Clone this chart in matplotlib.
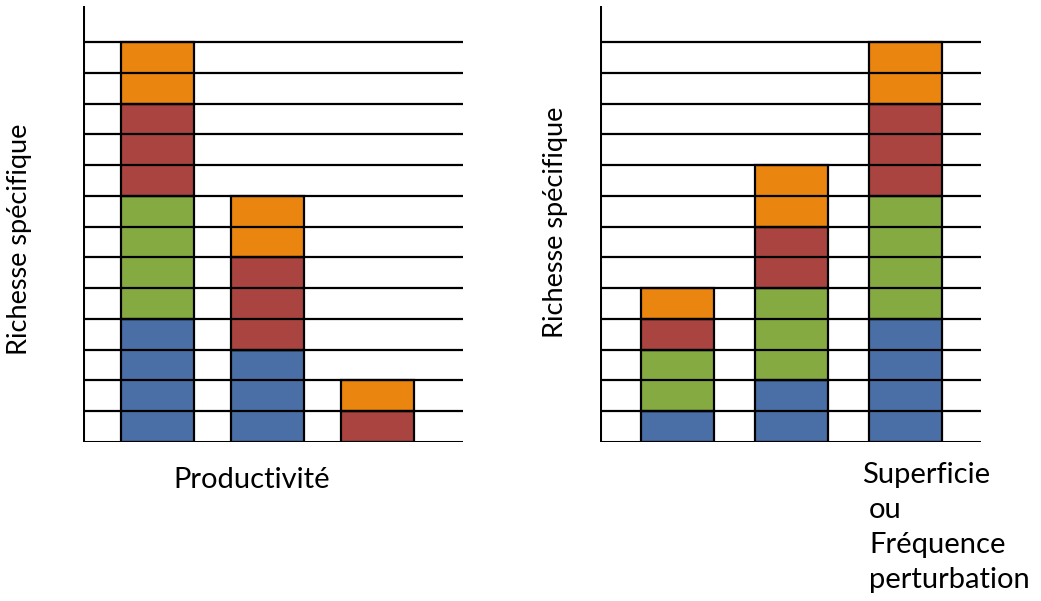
import numpy as np
import matplotlib.pyplot as plt

# stacked units per bar (blue, green, red, orange)
prod_blue = [4, 3, 0]
prod_green = [4, 0, 0]
prod_red = [3, 3, 1]
prod_orange = [2, 2, 1]

sup_blue = [1, 2, 4]
sup_green = [2, 3, 4]
sup_red = [1, 2, 3]
sup_orange = [1, 2, 2]

n_lines = 13
colors = ['#4A6FA6', '#86AA42', '#AA4441', '#EA850F']

W, H = 1041, 601
fig = plt.figure(figsize=(W / 100, H / 100), dpi=100)
plt.rcParams['font.family'] = ['Lato', 'DejaVu Sans']


def px_axes(x0, x1, y_top, y_bot):
    return fig.add_axes([x0 / W, 1 - y_bot / H, (x1 - x0) / W, (y_bot - y_top) / H])


def draw_panel(ax, series, first_center_px, spacing_px, left_px, right_px):
    unit = (442 - 42) / n_lines
    ax.set_ylim(0, (442 - 6) / unit)
    ax.set_xlim((left_px - first_center_px) / spacing_px,
                (right_px - first_center_px) / spacing_px)
    x = np.arange(3)
    width = 73 / spacing_px
    bottom = np.zeros(3)
    for vals, c in zip(series, colors):
        vals = np.array(vals)
        ax.bar(x, vals, width, bottom=bottom, color=c,
               edgecolor='black', linewidth=1.6, zorder=2)
        bottom += vals
    xl = ax.get_xlim()
    for k in range(1, n_lines + 1):
        ax.plot(xl, [k, k], color='black', lw=1.6, zorder=3)
    ax.plot(xl, [0, 0], color='black', lw=2.2, zorder=3)
    ax.plot([xl[0], xl[0]], [0, ax.get_ylim()[1]], color='black', lw=2.2, zorder=3)
    ax.axis('off')


ax1 = px_axes(83, 463, 6, 442)
draw_panel(ax1, [prod_blue, prod_green, prod_red, prod_orange], 157.5, 110, 83, 463)

ax2 = px_axes(600, 981, 6, 442)
draw_panel(ax2, [sup_blue, sup_green, sup_red, sup_orange], 677, 114, 600, 981)

fs_y = 19.5
fs = 21
fig.text(20 / W, 1 - 239 / H, 'Richesse spécifique', rotation=90,
         ha='center', va='center', fontsize=fs_y)
fig.text(556 / W, 1 - 222 / H, 'Richesse spécifique', rotation=90,
         ha='center', va='center', fontsize=fs_y)
fig.text(252 / W, 1 - 480 / H, 'Productivité', ha='center', va='center', fontsize=fs)
fig.text(862 / W, 1 - 475 / H, 'Superficie', ha='left', va='center', fontsize=fs)
for i, s in enumerate(['ou', 'Fréquence', 'perturbation']):
    fig.text(869 / W, 1 - (510 + 35 * i) / H, s, ha='left', va='center', fontsize=fs)

fig.savefig('out.png', dpi=100)
